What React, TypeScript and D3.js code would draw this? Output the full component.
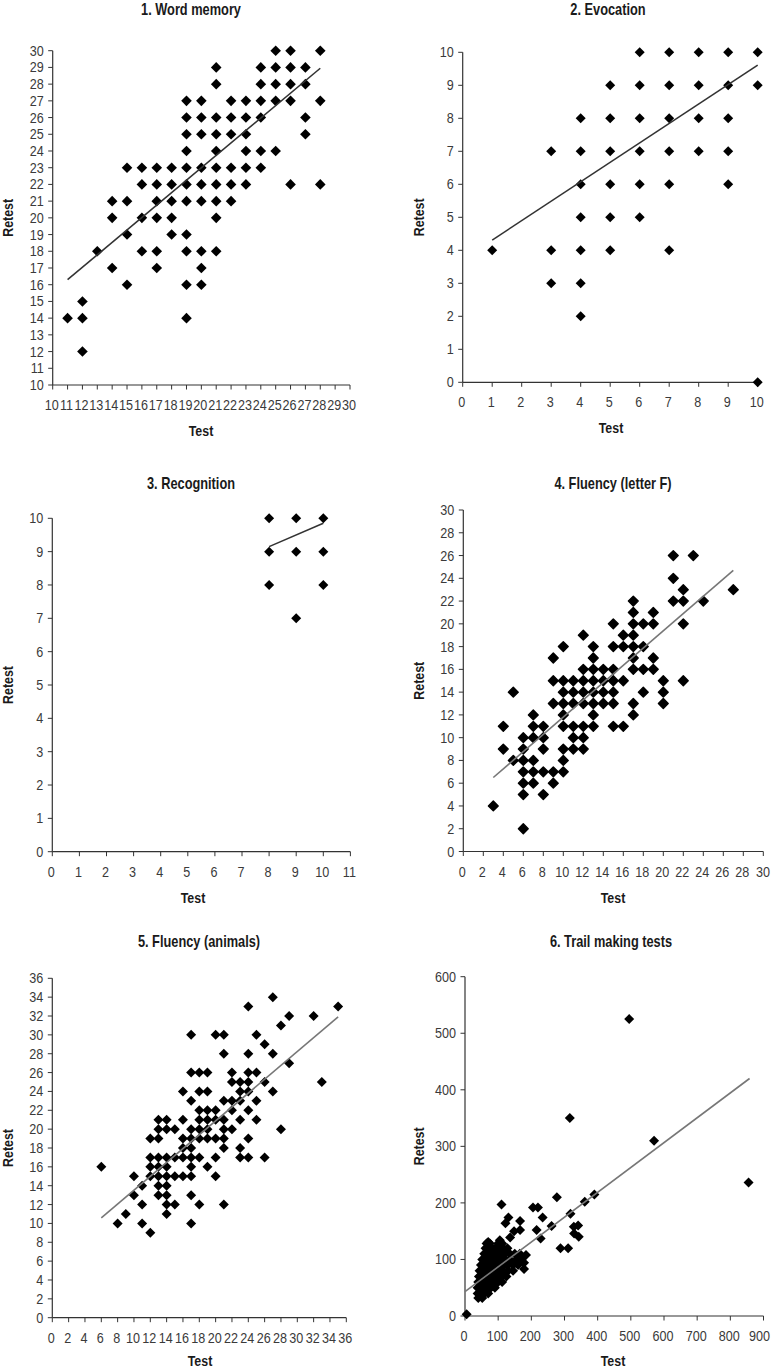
import React from 'react';
import * as d3 from 'd3';

type Pt = [number, number];
type Row = [number, number[]]; // [retest value, test values]

// ---------- DATA ----------
const titles = ['1. Word memory', '2. Evocation', '3. Recognition', '4. Fluency (letter F)', '5. Fluency (animals)', '6. Trail making tests'];

const wordMemoryRows: Row[] = [
  [30, [25, 26, 28]],
  [29, [21, 24, 25, 26, 27]],
  [28, [21, 24, 25, 26, 27]],
  [27, [19, 20, 22, 23, 24, 25, 26, 28]],
  [26, [19, 20, 21, 22, 23, 24, 27]],
  [25, [19, 20, 21, 22, 23, 27]],
  [24, [19, 21, 23, 24, 25]],
  [23, [15, 16, 17, 18, 19, 20, 21, 22, 23, 24]],
  [22, [16, 17, 18, 19, 20, 21, 22, 23, 26, 28]],
  [21, [14, 15, 17, 18, 19, 20, 21, 22]],
  [20, [14, 16, 17, 18, 21]],
  [19, [15, 18, 19]],
  [18, [13, 16, 17, 19, 20, 21]],
  [17, [14, 17, 20]],
  [16, [15, 19, 20]],
  [15, [12]],
  [14, [11, 12, 19]],
  [12, [12]],
];
const wordMemoryTrend: Pt[] = [[11, 16.3], [28, 28.95]];

const evocationRows: Row[] = [
  [10, [6, 7, 8, 9, 10]],
  [9, [5, 6, 7, 8, 9, 10]],
  [8, [4, 5, 6, 7, 8, 9]],
  [7, [3, 4, 5, 6, 7, 8, 9]],
  [6, [4, 5, 6, 7, 9]],
  [5, [4, 5, 6]],
  [4, [1, 3, 4, 5, 7]],
  [3, [3, 4]],
  [2, [4]],
  [0, [10]],
];
const evocationTrend: Pt[] = [[1, 4.31], [10, 9.61]];

const recognitionRows: Row[] = [
  [10, [8, 9, 10]],
  [9, [8, 9, 10]],
  [8, [8, 10]],
  [7, [9]],
];
const recognitionTrend: Pt[] = [[8, 9.15], [10, 9.85]];

const fluencyFRows: Row[] = [
  [26, [21, 23]],
  [24, [21]],
  [23, [22, 27]],
  [22, [17, 21, 22, 24]],
  [21, [17, 19]],
  [20, [15, 17, 18, 19, 22]],
  [19, [12, 16, 17]],
  [18, [10, 13, 15, 16, 17, 18]],
  [17, [9, 13, 17, 19]],
  [16, [12, 13, 14, 15, 17, 18, 19]],
  [15, [9, 10, 11, 12, 13, 14, 15, 16, 20, 22]],
  [14, [5, 10, 11, 12, 13, 14, 15, 18, 20]],
  [13, [9, 10, 11, 12, 13, 14, 15, 17, 20]],
  [12, [7, 10, 13, 17]],
  [11, [4, 7, 8, 10, 11, 12, 13, 15, 16]],
  [10, [6, 7, 8, 11, 12]],
  [9, [4, 6, 8, 10, 11, 12]],
  [8, [5, 6, 7, 10]],
  [7, [6, 7, 8, 9, 10]],
  [6, [6, 7, 9]],
  [5, [6, 8]],
  [4, [3]],
  [2, [6]],
];
const fluencyFTrend: Pt[] = [[3, 6.5], [27, 24.7]];

const animalsRows: Row[] = [
  [34, [27]],
  [33, [24, 35]],
  [32, [29, 32]],
  [31, [28]],
  [30, [17, 20, 21, 25]],
  [29, [26]],
  [28, [21, 24, 27]],
  [27, [29]],
  [26, [17, 18, 19, 22, 24, 25]],
  [25, [22, 23, 24, 26, 33]],
  [24, [16, 18, 19, 23, 24, 27]],
  [23, [17, 21, 22, 23, 25]],
  [22, [18, 19, 20, 22, 24]],
  [21, [13, 14, 16, 18, 19, 20, 21, 23, 25]],
  [20, [13, 14, 15, 17, 18, 19, 21, 22, 28]],
  [19, [12, 13, 16, 17, 18, 19, 20, 21, 24]],
  [18, [16, 17, 21, 23]],
  [17, [12, 13, 14, 15, 16, 17, 18, 20, 23, 24, 26]],
  [16, [6, 12, 13, 14, 17, 19]],
  [15, [10, 12, 13, 14, 15, 16, 17, 20]],
  [14, [11, 13, 14]],
  [13, [10, 13, 14, 17]],
  [12, [11, 14, 15, 18, 21]],
  [11, [9, 14]],
  [10, [8, 11, 17]],
  [9, [12]],
];
const animalsTrend: Pt[] = [[6, 10.6], [35, 31.9]];

const trailOutliers: Pt[] = [
  [5, 3], [495, 525], [316, 350], [570, 310], [855, 236], [277, 210], [390, 215], [361, 202],
  [318, 181], [328, 158], [341, 160], [329, 146], [343, 140], [311, 120], [288, 120], [261, 159],
  [234, 174], [205, 192], [220, 192], [216, 152], [228, 137], [110, 197], [131, 174], [122, 164],
  [166, 168], [166, 152], [148, 150], [136, 139], [184, 108], [178, 94], [178, 83], [70, 131], [105, 134],
];
const trailClusterRows: Row[] = [
  [128, [65, 75, 100, 112]],
  [120, [62, 72, 82, 92, 102, 115, 128]],
  [110, [58, 68, 78, 88, 98, 108, 120, 135, 150, 165]],
  [100, [52, 62, 72, 82, 92, 102, 112, 122, 135, 155, 170]],
  [90, [48, 58, 68, 78, 88, 98, 108, 118, 130, 145, 160]],
  [80, [44, 54, 64, 74, 84, 94, 104, 115, 130, 145]],
  [70, [42, 52, 62, 72, 82, 92, 102, 112, 125]],
  [60, [40, 50, 60, 70, 80, 90, 100, 112]],
  [50, [38, 48, 58, 68, 78, 90]],
  [40, [38, 48, 58, 70]],
  [32, [40, 52]],
];
const trailTrend: Pt[] = [[0, 43], [858, 420]];

const ticks1 = d3.range(10, 31, 1);
const ticks0to10 = d3.range(0, 11, 1);
const ticks0to11 = d3.range(0, 12, 1);
const ticks0to30by2 = d3.range(0, 31, 2);
const ticks0to36by2 = d3.range(0, 37, 2);
const ticksTrailX = d3.range(0, 901, 100);
const ticksTrailY = d3.range(0, 601, 100);

const rowsToPts = (rows: Row[]): Pt[] => rows.flatMap(([y, xs]) => xs.map((x) => [x, y] as Pt));

// ---------- LAYOUT ----------
const FONT = "'Liberation Sans', Arial, 'DejaVu Sans', sans-serif";
const SX_BOLD = 0.8; // horizontal compression to mimic a condensed face
const SX_TICK = 0.9;

interface PanelSpec {
  title: string;
  titleX: number;
  titleY: number;
  testX: number;
  retestX: number;
  xDomain: [number, number];
  xRange: [number, number];
  yDomain: [number, number];
  yRange: [number, number];
  xTicks: number[];
  yTicks: number[];
  points: Pt[];
  trend: Pt[];
  trendColor: string;
  r: number;
  round?: boolean;
}

const panels: PanelSpec[] = [
  {
    title: titles[0], titleX: 191, titleY: 15, testX: 201, retestX: 8,
    xDomain: [10, 30], xRange: [52.7, 350], yDomain: [10, 30], yRange: [385, 50.7],
    xTicks: ticks1, yTicks: ticks1, points: rowsToPts(wordMemoryRows), trend: wordMemoryTrend,
    trendColor: '#333', r: 5.3,
  },
  {
    title: titles[1], titleX: 608, titleY: 15, testX: 611, retestX: 419,
    xDomain: [0, 10], xRange: [462.7, 757.7], yDomain: [0, 10], yRange: [382.3, 52.3],
    xTicks: ticks0to10, yTicks: ticks0to10, points: rowsToPts(evocationRows), trend: evocationTrend,
    trendColor: '#333', r: 5.0,
  },
  {
    title: titles[2], titleX: 191, titleY: 489, testX: 193, retestX: 8,
    xDomain: [0, 11], xRange: [52.3, 350.4], yDomain: [0, 10], yRange: [851.7, 518.3],
    xTicks: ticks0to11, yTicks: ticks0to10, points: rowsToPts(recognitionRows), trend: recognitionTrend,
    trendColor: '#333', r: 5.0,
  },
  {
    title: titles[3], titleX: 613, titleY: 489, testX: 613, retestX: 419,
    xDomain: [0, 30], xRange: [463.3, 763.3], yDomain: [0, 30], yRange: [851.5, 510],
    xTicks: ticks0to30by2, yTicks: ticks0to30by2, points: rowsToPts(fluencyFRows), trend: fluencyFTrend,
    trendColor: '#777', r: 4.9, round: true,
  },
  {
    title: titles[4], titleX: 199, titleY: 947, testX: 200, retestX: 8,
    xDomain: [0, 36], xRange: [52.3, 346.3], yDomain: [0, 36], yRange: [1317.7, 978.3],
    xTicks: ticks0to36by2, yTicks: ticks0to36by2, points: rowsToPts(animalsRows), trend: animalsTrend,
    trendColor: '#777', r: 5.0,
  },
  {
    title: titles[5], titleX: 611, titleY: 947, testX: 613, retestX: 419,
    xDomain: [0, 900], xRange: [465, 763.5], yDomain: [0, 600], yRange: [1316, 976.7],
    xTicks: ticksTrailX, yTicks: ticksTrailY, points: [...rowsToPts(trailClusterRows), ...trailOutliers],
    trend: trailTrend, trendColor: '#777', r: 5.0,
  },
];

function CText({ x, y, anchor = 'middle', size, bold = false, fill = '#1a1a1a', rotate = 0, dy, sx, children }: any) {
  const s = sx ?? (bold ? SX_BOLD : SX_TICK);
  return (
    <text
      transform={`translate(${x},${y})${rotate ? ` rotate(${rotate})` : ''} scale(${s},1)`}
      textAnchor={anchor}
      dy={dy}
      fontFamily={FONT}
      fontWeight={bold ? 'bold' : 'normal'}
      fontSize={size}
      fill={fill}
    >
      {children}
    </text>
  );
}

function Panel({ p }: { p: PanelSpec }) {
  const x = d3.scaleLinear().domain(p.xDomain).range(p.xRange);
  const y = d3.scaleLinear().domain(p.yDomain).range(p.yRange);
  const line = d3.line<Pt>().x((d) => x(d[0])).y((d) => y(d[1]));
  const axisColor = '#333';
  const x0 = p.xRange[0];
  const y0 = p.yRange[0];
  const diamond = (cx: number, cy: number, r: number) =>
    `M${cx},${cy - r}L${cx + r},${cy}L${cx},${cy + r}L${cx - r},${cy}Z`;
  const lastX = p.xTicks[p.xTicks.length - 1];
  return (
    <g>
      <CText x={p.titleX} y={p.titleY} size={16} bold>{p.title}</CText>
      {/* axes */}
      <line x1={x0} x2={x0} y1={p.yRange[0]} y2={p.yRange[1]} stroke={axisColor} strokeWidth={1.2} />
      <line x1={x0} x2={p.xRange[1]} y1={y0} y2={y0} stroke={axisColor} strokeWidth={1.2} />
      {p.yTicks.map((t) => (
        <g key={'y' + t}>
          <line x1={x0 - 4.5} x2={x0} y1={y(t)} y2={y(t)} stroke={axisColor} strokeWidth={1} />
          <CText x={x0 - 9} y={y(t)} dy="0.36em" anchor="end" size={14} fill="#3a3a3a">{t}</CText>
        </g>
      ))}
      {p.xTicks.map((t) => {
        const edge = x(t) + 10 > 771 && t === lastX;
        return (
          <g key={'x' + t}>
            <line x1={x(t)} x2={x(t)} y1={y0} y2={y0 + 4.5} stroke={axisColor} strokeWidth={1} />
            <CText x={edge ? 770 : x(t) - 1} y={y0 + 25} anchor={edge ? 'end' : 'middle'} size={14} fill="#3a3a3a">{t}</CText>
          </g>
        );
      })}
      <CText x={p.testX} y={Math.min(y0 + 51, 1366)} size={15.5} bold>Test</CText>
      <CText x={p.retestX + 5} y={(p.yRange[0] + p.yRange[1]) / 2} rotate={-90} size={15.5} bold>Retest</CText>
      {/* points */}
      {p.points.map((d, i) => (
        <path
          key={i}
          d={diamond(x(d[0]), y(d[1]), p.r)}
          fill="#000"
          stroke={p.round ? '#000' : 'none'}
          strokeWidth={p.round ? 1.4 : 0}
          strokeLinejoin="round"
        />
      ))}
      <path d={line(p.trend) || ''} fill="none" stroke={p.trendColor} strokeWidth={1.6} />
    </g>
  );
}

export default function App() {
  return (
    <svg
      width={771}
      height={1371}
      viewBox="0 0 771 1371"
      style={{ position: 'absolute', left: 0, top: 0, background: '#fff' }}
    >
      <rect x={0} y={0} width={771} height={1371} fill="#fff" />
      {panels.map((p, i) => (
        <Panel key={i} p={p} />
      ))}
    </svg>
  );
}
